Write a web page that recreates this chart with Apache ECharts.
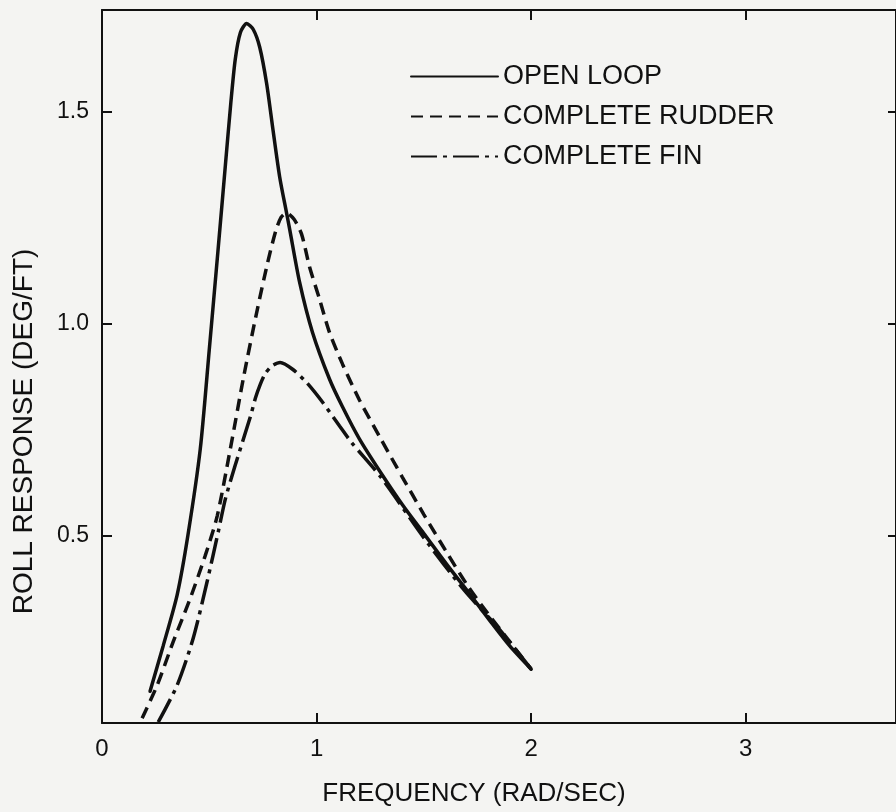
<!DOCTYPE html>
<html>
<head>
<meta charset="utf-8">
<script src="https://cdn.jsdelivr.net/npm/echarts@6/dist/echarts.min.js"></script>
<style>
html,body{margin:0;padding:0;background:#f4f4f2;}
#chart{width:896px;height:812px;}
</style>
</head>
<body>
<div id="chart"></div>
<script>
// ---- data ----
var seriesNames = ['OPEN LOOP', 'COMPLETE RUDDER', 'COMPLETE FIN'];

var openLoopFreq = [0.224, 0.285, 0.35, 0.40, 0.458, 0.50, 0.54, 0.575, 0.60, 0.621, 0.645, 0.674, 0.705, 0.735, 0.767, 0.795, 0.828, 0.860, 0.874, 0.921, 0.981, 1.06, 1.12, 1.2, 1.3, 1.4, 1.5, 1.61, 1.71, 1.81, 1.9, 2.0];
var openLoopResp = [0.133, 0.24, 0.36, 0.50, 0.705, 0.94, 1.17, 1.375, 1.52, 1.625, 1.688, 1.709, 1.695, 1.653, 1.568, 1.465, 1.347, 1.262, 1.225, 1.098, 0.98, 0.87, 0.805, 0.728, 0.648, 0.573, 0.505, 0.43, 0.365, 0.298, 0.24, 0.185];

var rudderFreq = [0.187, 0.257, 0.332, 0.411, 0.481, 0.537, 0.598, 0.66, 0.72, 0.772, 0.81, 0.835, 0.86, 0.895, 0.93, 0.967, 1.014, 1.06, 1.121, 1.2, 1.3, 1.4, 1.5, 1.6, 1.7, 1.8, 1.9, 2.0];
var rudderResp = [0.069, 0.147, 0.25, 0.352, 0.453, 0.547, 0.705, 0.875, 1.025, 1.145, 1.22, 1.252, 1.262, 1.247, 1.212, 1.135, 1.058, 0.98, 0.905, 0.82, 0.728, 0.638, 0.55, 0.466, 0.385, 0.315, 0.25, 0.185];

var finFreq = [0.262, 0.35, 0.425, 0.49, 0.542, 0.575, 0.62, 0.692, 0.715, 0.738, 0.76, 0.79, 0.83, 0.888, 0.953, 1.028, 1.107, 1.163, 1.30, 1.50, 1.687, 1.85, 2.0];
var finResp = [0.06, 0.147, 0.258, 0.392, 0.51, 0.587, 0.665, 0.782, 0.825, 0.858, 0.882, 0.90, 0.909, 0.893, 0.862, 0.815, 0.759, 0.72, 0.638, 0.495, 0.372, 0.28, 0.185];

var xTickValues = [0, 1, 2, 3];
var yTickValues = [0.5, 1.0, 1.5];

function zip(a, b) { return a.map(function (v, i) { return [v, b[i]]; }); }

var ink = '#111111';
var fontFam = '"Liberation Sans", Arial, sans-serif';

var chart = echarts.init(document.getElementById('chart'));
var option = {
  backgroundColor: '#f4f4f2',
  animation: false,
  grid: { left: 102, right: -2, top: 10, bottom: 87, containLabel: false },
  legend: {
    orient: 'vertical',
    left: 405,
    top: 58,
    itemWidth: 87,
    itemHeight: 14,
    itemGap: 13,
    data: seriesNames,
    itemStyle: { opacity: 0 },
    textStyle: { color: ink, fontSize: 27, fontFamily: fontFam }
  },
  xAxis: [{
    type: 'value', min: 0, max: 3.70, position: 'bottom',
    name: 'FREQUENCY (RAD/SEC)', nameLocation: 'middle', nameGap: 58,
    nameTextStyle: { color: ink, fontSize: 26, fontFamily: fontFam, padding: [0, 50, 0, 0] },
    axisLine: { show: true, onZero: false, lineStyle: { color: ink, width: 2 } },
    axisTick: { show: true, inside: true, length: 10, customValues: [1, 2, 3], lineStyle: { color: ink, width: 2 } },
    axisLabel: { customValues: xTickValues, color: ink, fontSize: 24, fontFamily: fontFam, margin: 14,
      formatter: function (v) { return String(Math.round(v)); } },
    splitLine: { show: false }
  }, {
    type: 'value', min: 0, max: 3.70, position: 'top',
    axisLine: { show: true, onZero: false, lineStyle: { color: ink, width: 2 } },
    axisTick: { show: true, inside: true, length: 10, customValues: [1, 2, 3], lineStyle: { color: ink, width: 2 } },
    axisLabel: { show: false },
    splitLine: { show: false }
  }],
  yAxis: [{
    type: 'value', min: 0.058, max: 1.741, position: 'left',
    name: 'ROLL RESPONSE (DEG/FT)', nameLocation: 'middle', nameGap: 64, nameRotate: 90,
    nameTextStyle: { color: ink, fontSize: 28, fontFamily: fontFam, padding: [0, 130, 0, 0] },
    axisLine: { show: true, onZero: false, lineStyle: { color: ink, width: 2 } },
    axisTick: { show: true, inside: true, length: 10, customValues: yTickValues, lineStyle: { color: ink, width: 2 } },
    axisLabel: { customValues: yTickValues, color: ink, fontSize: 23, fontFamily: fontFam, margin: 13,
      formatter: function (v) { return v.toFixed(1); } },
    splitLine: { show: false }
  }, {
    type: 'value', min: 0.058, max: 1.741, position: 'right',
    axisLine: { show: true, onZero: false, lineStyle: { color: ink, width: 2 } },
    axisTick: { show: true, inside: true, length: 8, customValues: yTickValues, lineStyle: { color: ink, width: 2 } },
    axisLabel: { show: false },
    splitLine: { show: false }
  }],
  series: [{
    name: seriesNames[0], type: 'line', smooth: 0.25, symbol: 'none',
    data: zip(openLoopFreq, openLoopResp),
    lineStyle: { color: ink, width: 3.5, type: 'solid', cap: 'round' },
    itemStyle: { color: ink }
  }, {
    name: seriesNames[1], type: 'line', smooth: 0.25, symbol: 'none',
    data: zip(rudderFreq, rudderResp),
    lineStyle: { color: ink, width: 3.5, type: [12, 7] },
    itemStyle: { color: ink }
  }, {
    name: seriesNames[2], type: 'line', smooth: 0.25, symbol: 'none',
    data: zip(finFreq, finResp),
    lineStyle: { color: ink, width: 3.5, type: [26, 6, 4, 6] },
    itemStyle: { color: ink }
  }]
};
chart.setOption(option);
</script>
</body>
</html>
